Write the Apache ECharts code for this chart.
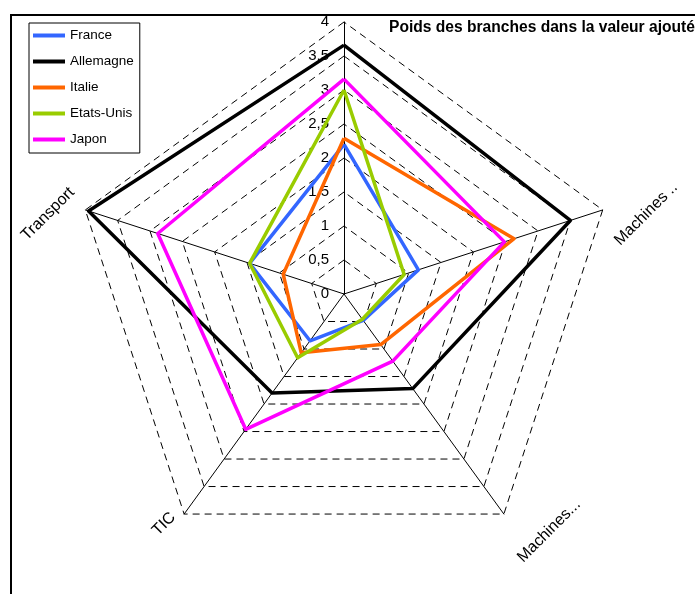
<!DOCTYPE html>
<html>
<head>
<meta charset="utf-8">
<script src="https://cdn.jsdelivr.net/npm/echarts@6/dist/echarts.min.js"></script>
<style>
html,body{margin:0;padding:0;background:#fff;}
#chart{width:695px;height:594px;}
</style>
</head>
<body>
<div id="chart"></div>
<script>
// Indicator order (ECharts lays them out counter-clockwise from the top)
const categories = ['', 'Transport', 'TIC', 'Machines...', 'Machines ..'];
const scaleMax = 4;
const scaleStep = 0.5;
const titleText = 'Poids des branches dans la valeur ajoutée';

const seriesNames = ['France', 'Allemagne', 'Italie', 'Etats-Unis', 'Japon'];
const france    = [2.2, 1.46, 0.85, 0.48, 1.15];
const allemagne = [3.66, 3.95, 1.8, 1.72, 3.5];
const italie    = [2.29, 0.94, 1.07, 0.92, 2.63];
const etatsUnis = [3.0, 1.46, 1.16, 0.46, 0.93];
const japon     = [3.16, 2.88, 2.46, 1.22, 2.48];
const seriesValues = [france, allemagne, italie, etatsUnis, japon];
const seriesColors = ['#3366FF', '#000000', '#FF6600', '#99CC00', '#FF00FF'];

const FONT = "'Liberation Sans', Arial, sans-serif";

const chart = echarts.init(document.getElementById('chart'), null, {renderer: 'canvas'});

// rotated axis names (positions only)
const namePos = {
  'Transport':   [48, 214],
  'TIC':         [164, 524],
  'Machines...': [549, 531],
  'Machines ..': [646, 214]
};
const nameGraphics = categories.filter(c => c && namePos[c]).map(c => ({
  type: 'text',
  x: namePos[c][0], y: namePos[c][1],
  rotation: Math.PI / 4,
  style: {text: c, font: '16px ' + FONT, fill: '#000', textAlign: 'center', textVerticalAlign: 'middle'},
  z: 10
}));

const option = {
  animation: false,
  backgroundColor: '#fff',
  title: {
    text: titleText,
    left: 389, top: 20,
    padding: 0,
    textStyle: {fontFamily: FONT, fontSize: 15.6, fontWeight: 'bold', color: '#000'}
  },
  legend: {
    orient: 'vertical',
    left: 29, top: 23,
    padding: [5, 6, 6, 4],
    itemGap: 11,
    itemWidth: 32,
    itemHeight: 4,
    icon: 'rect',
    borderColor: '#000',
    borderWidth: 1,
    data: seriesNames,
    textStyle: {fontFamily: FONT, fontSize: 13.5, color: '#000', lineHeight: 15}
  },
  graphic: [
    {type: 'rect', shape: {x: 11, y: 15, width: 800, height: 700}, style: {fill: null, stroke: '#000', lineWidth: 2}, z: 0, silent: true}
  ].concat(nameGraphics),
  radar: {
    center: [344, 294],
    radius: 272,
    startAngle: 90,
    shape: 'polygon',
    splitNumber: scaleMax / scaleStep,
    indicator: categories.map((c, i) => {
      const ind = {name: c, min: 0, max: scaleMax};
      if (i === 0) {
        ind.axisLabel = {
          show: true,
          margin: 15,
          fontFamily: FONT,
          fontSize: 15,
          color: '#000',
          formatter: v => String(v).replace('.', ',')
        };
      }
      return ind;
    }),
    axisName: {show: false},
    axisLine: {show: true, lineStyle: {color: '#000', width: 1}},
    axisTick: {show: false},
    axisLabel: {show: false},
    splitLine: {show: true, lineStyle: {color: '#000', width: 1, type: [7, 5]}},
    splitArea: {show: false}
  },
  series: [{
    type: 'radar',
    symbol: 'none',
    data: seriesNames.map((n, i) => ({
      name: n,
      value: seriesValues[i],
      lineStyle: {color: seriesColors[i], width: 3.5},
      itemStyle: {color: seriesColors[i]}
    }))
  }]
};
chart.setOption(option);
</script>
</body>
</html>
